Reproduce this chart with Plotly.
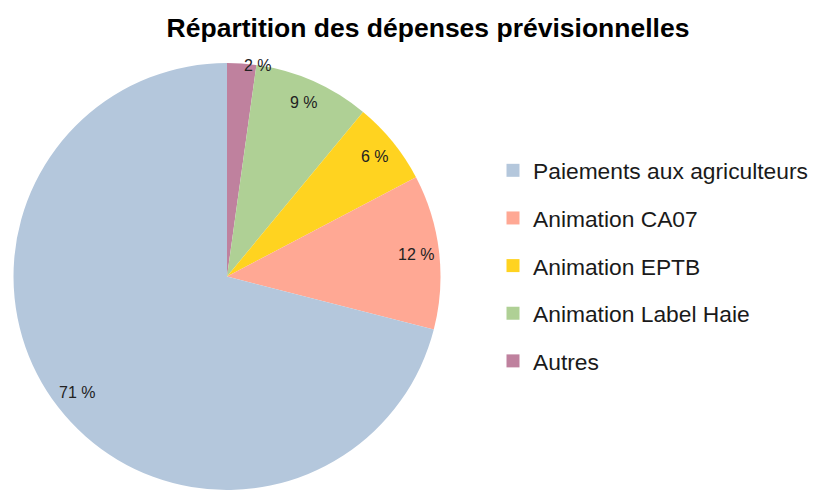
import math
import plotly.graph_objects as go

W, H = 825, 490

title = "Répartition des dépenses prévisionnelles"
categories = ["Paiements aux agriculteurs", "Animation CA07", "Animation EPTB",
              "Animation Label Haie", "Autres"]
shares = [71.0, 11.7, 6.3, 8.8, 2.2]
colors = ["#b4c7dc", "#ffa894", "#ffd320", "#afd095", "#bf819e"]

total = sum(shares)
labels_txt = [f"{round(v / total * 100)} %" for v in shares]

# pie geometry (pixels)
top_px, left_px = 63, 13.5
diam = H - top_px
cx_px = left_px + diam / 2
cy_px = top_px + diam / 2
R = diam / 2

fig = go.Figure()
# slices laid clockwise from 12 o'clock in reverse order = counterclockwise order
fig.add_trace(go.Pie(
    labels=categories[::-1], values=shares[::-1], sort=False, direction="clockwise",
    rotation=0, marker=dict(colors=colors[::-1], line=dict(width=0)),
    textinfo="none", hoverinfo="label+percent", showlegend=False,
    domain=dict(x=[left_px / W, (left_px + diam) / W], y=[0, diam / H]),
))

# percentage labels placed from the slice angles (counterclockwise from top)
start = 90.0
for v, t in zip(shares, labels_txt):
    span = v / total * 360
    mid = math.radians(start + span / 2)
    start += span
    frac = v / total
    if frac < 0.03:
        r = R * 1.0
        xa = "left"
        dy = 2
    else:
        r = R * 0.89
        xa = "center"
        dy = 0
    px = cx_px + r * math.cos(mid)
    py = cy_px - r * math.sin(mid) + dy
    fig.add_annotation(x=px / W, y=1 - py / H, xref="paper", yref="paper",
                       text=t, showarrow=False, xanchor=xa, yanchor="middle",
                       font=dict(family="Liberation Sans", size=16, color="#222222"))

# legend entries
for i, (c, col) in enumerate(zip(categories, colors)):
    fig.add_trace(go.Scatter(x=[None], y=[None], mode="markers", name=c,
                             legendgroup=f"g{i}",
                             marker=dict(symbol="square", size=13, color=col)))

fig.update_layout(
    width=W, height=H,
    margin=dict(l=0, r=0, t=0, b=0),
    paper_bgcolor="white", plot_bgcolor="white",
    title=dict(text=f"<b>{title}</b>", x=428 / W, xanchor="center",
               y=1 - 28 / H, yanchor="middle", yref="container",
               font=dict(family="Liberation Sans", size=26.5, color="#000000")),
    xaxis=dict(visible=False), yaxis=dict(visible=False),
    legend=dict(x=493 / W, xanchor="left", y=1 - 149 / H, yanchor="top",
                font=dict(family="Liberation Sans", size=22.8, color="#1a1a1a"),
                tracegroupgap=15, bgcolor="rgba(0,0,0,0)"),
)

fig.write_html("out.html")
